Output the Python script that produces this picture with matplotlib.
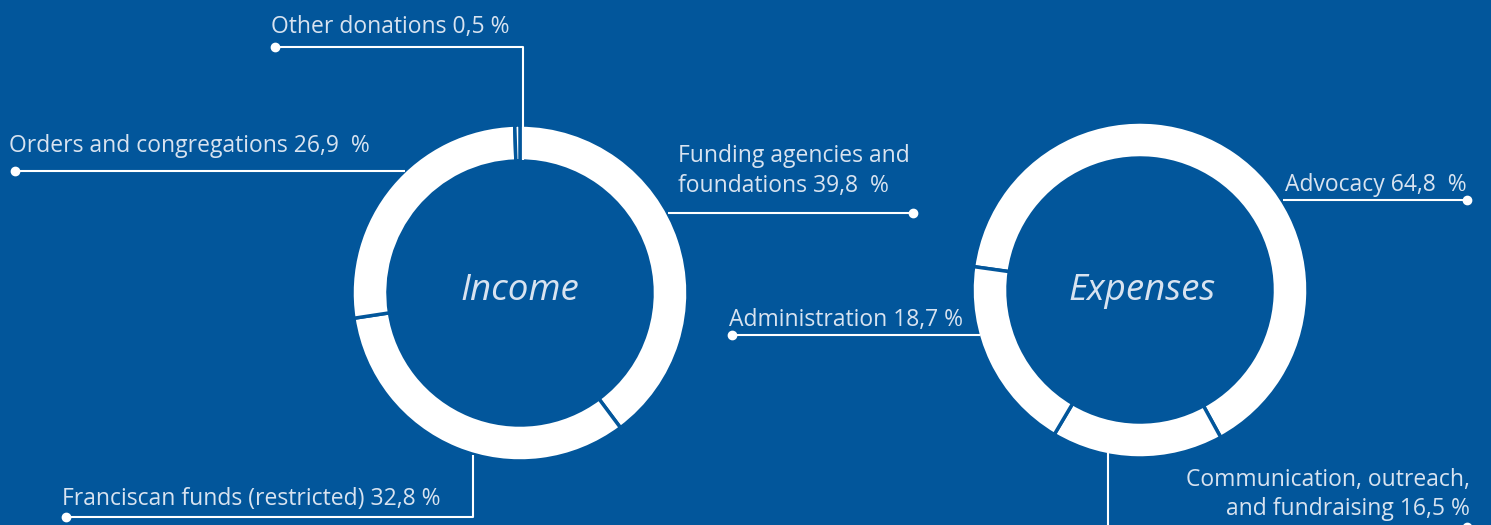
import matplotlib.pyplot as plt

# Данные
income_labels = ["Funding agencies and\nfoundations 39,8  %",
                 "Franciscan funds (restricted) 32,8 %",
                 "Orders and congregations 26,9  %",
                 "Other donations 0,5 %"]
income_values = [39.8, 32.8, 26.9, 0.5]

expense_labels = ["Advocacy 64,8  %",
                  "Communication, outreach,\nand fundraising 16,5 %",
                  "Administration 18,7 %"]
expense_values = [64.8, 16.5, 18.7]

BG = '#02569b'
TXT = '#d8e3f0'

plt.rcParams['font.family'] = ['Open Sans', 'DejaVu Sans']

fig = plt.figure(figsize=(14.91, 5.25), dpi=100, facecolor=BG)
ax = fig.add_axes([0, 0, 1, 1])
ax.set_facecolor(BG)

ring = dict(width=36, edgecolor=BG, linewidth=2.5)
ax.pie(income_values, colors=['white'] * len(income_values), startangle=90,
       counterclock=False, center=(520, 232), radius=168, wedgeprops=ring)
ax.pie(expense_values, colors=['white'] * len(expense_values), startangle=172,
       counterclock=False, center=(1140, 235), radius=168, wedgeprops=ring)

ax.set_xlim(0, 1491)
ax.set_ylim(0, 525)
ax.set_aspect('equal')
ax.axis('off')


def leader(xs, ys, dot):
    ax.plot(xs, ys, color='white', lw=1.5, solid_capstyle='butt', clip_on=False)
    ax.plot(*dot, 'o', color='white', ms=6, clip_on=False)


# выноски
leader([275, 523, 523], [478, 478, 365], (275, 478))    # Other
leader([15, 405], [354, 354], (15, 354))                 # Orders
leader([668, 913], [312, 312], (913, 312))               # Funding
leader([66, 473, 473], [8, 8, 70], (66, 8))              # Franciscan
leader([732, 980], [190, 190], (732, 190))               # Administration
leader([1283, 1467], [325, 325], (1467, 325))            # Advocacy
leader([1108, 1108, 1467], [72, -2, -2], (1467, -2))     # Communication

fs = 16.5
kw = dict(color=TXT, fontsize=fs, va='baseline')
ax.text(678, 333, income_labels[0], linespacing=1.35, **kw)
ax.text(62, 20, income_labels[1], **kw)
ax.text(9, 373, income_labels[2], **kw)
ax.text(271, 492, income_labels[3], **kw)

ax.text(1467, 334, expense_labels[0], ha='right', **kw)
ax.text(1470, 10, expense_labels[1], ha='right', linespacing=1.3, **kw)
ax.text(729, 199, expense_labels[2], **kw)

ax.text(520, 234, "Income", color=TXT, fontsize=26.5, style='italic',
        ha='center', va='center')
ax.text(1142, 234, "Expenses", color=TXT, fontsize=26.5, style='italic',
        ha='center', va='center')

fig.savefig('out.png', dpi=100, facecolor=BG)
